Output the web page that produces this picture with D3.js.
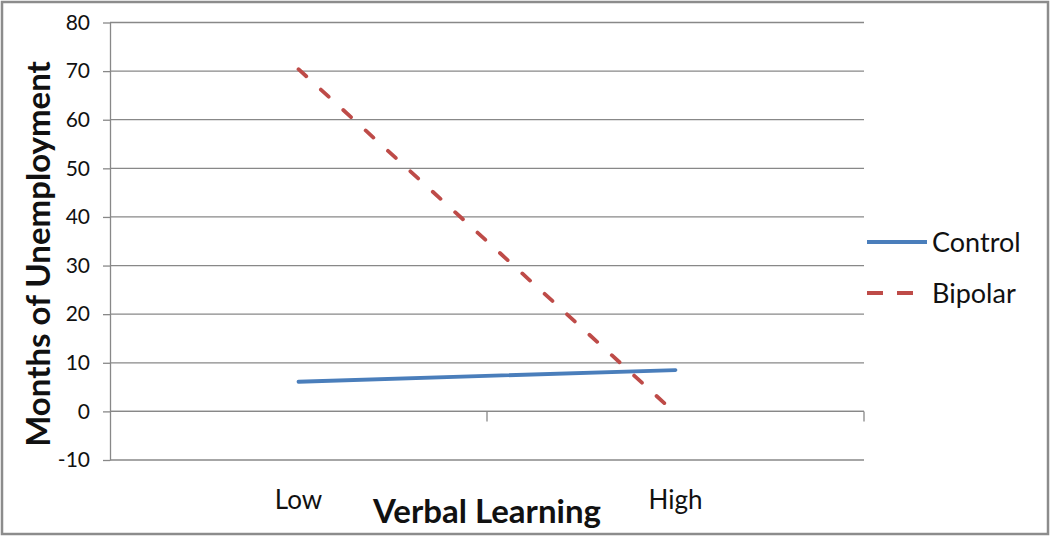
<!DOCTYPE html>
<html>
<head>
<meta charset="utf-8">
<script src="https://cdn.jsdelivr.net/npm/d3@7"></script>
<style>
  body { margin: 0; background: #fff; }
  svg { display: block; font-family: Lato, "Open Sans", sans-serif; }
</style>
</head>
<body>
<svg id="chart"></svg>
<script>
// chart data
const categories = ["Low", "High"];
const control = [6.1, 8.5];
const bipolar = [70.4, -0.4];
const yTicks = [-10, 0, 10, 20, 30, 40, 50, 60, 70, 80];
const seriesNames = ["Control", "Bipolar"];

const width = 1050, height = 536;
const margin = {top: 22.5, right: 186, bottom: 76, left: 110};

const svg = d3.select("#chart")
    .attr("width", width)
    .attr("height", height)
    .attr("viewBox", [0, 0, width, height]);

// outer border
svg.append("rect")
    .attr("x", 2).attr("y", 2)
    .attr("width", width - 4).attr("height", height - 4)
    .attr("fill", "#fff")
    .attr("stroke", "#8c8c8c")
    .attr("stroke-width", 2.5);

const x = d3.scaleBand()
    .domain(categories)
    .range([margin.left, width - margin.right]);

const y = d3.scaleLinear()
    .domain([-10, 80])
    .range([height - margin.bottom, margin.top]);

const gridColor = "#888";

// gridlines
svg.append("g")
  .selectAll("line")
  .data(yTicks)
  .join("line")
    .attr("x1", margin.left).attr("x2", width - margin.right)
    .attr("y1", d => y(d)).attr("y2", d => y(d))
    .attr("stroke", gridColor)
    .attr("stroke-width", 1.3);

// y axis
const yAxis = svg.append("g")
    .attr("transform", `translate(${margin.left},0)`)
    .call(d3.axisLeft(y).tickValues(yTicks).tickFormat(d => String(d))
      .tickSize(7).tickPadding(13).tickSizeOuter(0));
yAxis.select(".domain").attr("stroke", gridColor).attr("stroke-width", 1.3);
yAxis.selectAll(".tick line").attr("stroke", gridColor).attr("stroke-width", 1.3);
yAxis.selectAll(".tick text")
    .attr("font-size", 21)
    .attr("fill", "#111")
    .style("font-family", "Lato, sans-serif");

// x axis at value 0, ticks on band edges
const edges = categories.map(d => x(d)).concat([x(categories[categories.length - 1]) + x.bandwidth()]);
svg.append("line")
    .attr("x1", margin.left).attr("x2", width - margin.right)
    .attr("y1", y(0)).attr("y2", y(0))
    .attr("stroke", gridColor).attr("stroke-width", 1.3);
svg.append("g")
  .selectAll("line")
  .data(edges.slice(1))
  .join("line")
    .attr("x1", d => d).attr("x2", d => d)
    .attr("y1", y(0)).attr("y2", y(0) + 10)
    .attr("stroke", gridColor).attr("stroke-width", 1.3);

// category labels (low position)
svg.append("g")
  .selectAll("text")
  .data(categories)
  .join("text")
    .attr("x", d => x(d) + x.bandwidth() / 2)
    .attr("y", 509)
    .attr("text-anchor", "middle")
    .attr("font-size", 26)
    .attr("fill", "#111")
    .text(d => d);

// axis titles
svg.append("text")
    .attr("x", (margin.left + width - margin.right) / 2)
    .attr("y", 523)
    .attr("text-anchor", "middle")
    .attr("font-size", 33)
    .attr("font-weight", "bold")
    .attr("fill", "#111")
    .text("Verbal Learning");

svg.append("text")
    .attr("transform", "translate(50,254) rotate(-90)")
    .attr("text-anchor", "middle")
    .attr("font-size", 33)
    .attr("font-weight", "bold")
    .attr("fill", "#111")
    .text("Months of Unemployment");

// series lines
const line = d3.line()
    .x((d, i) => x(categories[i]) + x.bandwidth() / 2)
    .y(d => y(d));

const styles = [
  {color: "#4a7ebb", dash: null, legendDash: null},
  {color: "#be4b48", dash: "10.5,19.8", legendDash: "16,14"}
];

[control, bipolar].forEach((vals, i) => {
  svg.append("path")
      .datum(vals)
      .attr("fill", "none")
      .attr("stroke", styles[i].color)
      .attr("stroke-width", 3.8)
      .attr("stroke-linecap", "round")
      .attr("stroke-dasharray", styles[i].dash)
      .attr("d", line);
});

// legend
const legend = svg.append("g")
  .selectAll("g")
  .data(seriesNames)
  .join("g")
    .attr("transform", (d, i) => `translate(867,${242 + i * 51})`);

legend.append("line")
    .attr("x1", 0)
    .attr("x2", 60)
    .attr("stroke", (d, i) => styles[i].color)
    .attr("stroke-width", 3.8)
    .attr("stroke-dasharray", (d, i) => styles[i].legendDash);

legend.append("text")
    .attr("x", 65)
    .attr("y", 10)
    .attr("font-size", 27)
    .attr("fill", "#111")
    .text(d => d);
</script>
</body>
</html>
